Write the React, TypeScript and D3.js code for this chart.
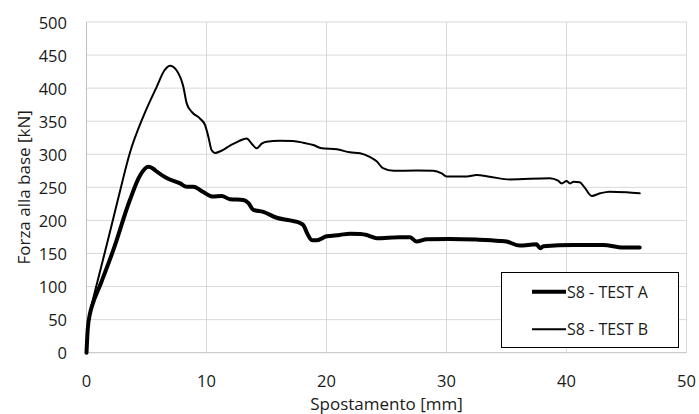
import React from "react";
import * as d3 from "d3";

const xTicks = [0, 10, 20, 30, 40, 50];
const yTicks = [0, 50, 100, 150, 200, 250, 300, 350, 400, 450, 500];

const seriesNames = ["S8 - TEST A", "S8 - TEST B"];

const aX = [0, 0.1, 0.3, 0.45, 1.2, 2.23, 3.6, 4.46, 5.15, 5.5, 5.85, 6.68, 7.8, 8.35, 8.9, 9.73, 10.5, 11.27, 11.96, 13.07, 13.5, 13.9, 14.73, 15.85, 16.96, 17.8, 18.1, 18.4, 18.8, 19.2, 20.0, 21.1, 21.96, 22.8, 23.35, 23.8, 24.2, 26.1, 26.96, 27.5, 28.35, 30.3, 32.5, 34.46, 35.0, 36.1, 37.5, 37.8, 38.07, 40.6, 43.07, 44.7, 46.1];
const aY = [0, 35, 60, 70, 105, 155, 230, 268, 281, 279, 274, 264, 256, 251, 251, 243, 236, 237, 232, 231, 226, 216, 213, 204, 200, 196, 192, 180, 170, 170, 176, 178, 180, 179.5, 178, 175, 173, 174.5, 174.5, 168, 171.5, 172, 171, 169, 168, 162, 164, 158, 161, 162.8, 162.8, 159, 159];

const bX = [0, 0.1, 0.3, 0.43, 1.2, 2.0, 2.8, 3.63, 4.73, 5.85, 6.5, 6.96, 7.5, 8.07, 8.35, 8.77, 9.46, 9.88, 10.15, 10.43, 10.7, 11.2, 11.96, 12.7, 13.35, 13.77, 14.18, 14.6, 15.0, 16.1, 17.2, 18.07, 18.9, 19.6, 20.85, 21.96, 22.8, 23.6, 24.2, 24.7, 25.6, 27.5, 28.9, 29.6, 30.0, 31.7, 32.5, 33.6, 35.3, 38.6, 39.3, 39.6, 40.0, 40.3, 40.6, 41.1, 41.5, 42.1, 42.8, 43.6, 45.0, 46.1];
const bY = [0, 35, 62, 72, 128, 186, 245, 303, 357, 402, 427, 434, 427, 402, 377, 364, 354, 344, 327, 306, 302, 305, 313, 320, 324, 316, 309, 316, 319, 320.5, 320, 317.5, 314, 309, 307.5, 303, 301.5, 296, 289, 279, 275, 275.5, 275, 271, 266.5, 266.5, 268.5, 266, 262, 263.7, 260, 256, 259.6, 256, 258.6, 257.6, 250, 237, 241, 243.5, 242.5, 241];

const W = 699;
const H = 414;
const FONT = "'Open Sans', 'DejaVu Sans', sans-serif";

export default function App() {
  const x = d3.scaleLinear().domain([0, 50]).range([86.5, 686.5]);
  const y = d3.scaleLinear().domain([0, 500]).range([352.7, 22]);
  const line = d3
    .line<[number, number]>()
    .x((d) => x(d[0]))
    .y((d) => y(d[1]))
    .curve(d3.curveMonotoneX);
  const a: [number, number][] = aX.map((v, i) => [v, aY[i]]);
  const b: [number, number][] = bX.map((v, i) => [v, bY[i]]);
  const textColor = "#1a1a1a";

  return (
    <svg
      width={W}
      height={H}
      style={{ position: "absolute", left: 0, top: 0, background: "#fff" }}
    >
      <rect x={0} y={0} width={W} height={H} fill="#fff" />
      {yTicks.map((t) => (
        <line
          key={"gy" + t}
          x1={x(0)}
          x2={x(50)}
          y1={y(t)}
          y2={y(t)}
          stroke={t === 0 ? "#bfbfbf" : "#d9d9d9"}
          strokeWidth={1}
        />
      ))}
      {xTicks.map((t) => (
        <line
          key={"gx" + t}
          x1={x(t)}
          x2={x(t)}
          y1={y(0)}
          y2={y(500)}
          stroke={t === 0 ? "#bfbfbf" : "#d9d9d9"}
          strokeWidth={1}
        />
      ))}
      {yTicks.map((t) => (
        <text
          key={"ty" + t}
          x={67}
          y={y(t)}
          textAnchor="end"
          dominantBaseline="central"
          fontFamily={FONT}
          fontSize={16.5}
          fill={textColor}
        >
          {t}
        </text>
      ))}
      {xTicks.map((t) => (
        <text
          key={"tx" + t}
          x={x(t)}
          y={380}
          textAnchor="middle"
          dominantBaseline="central"
          fontFamily={FONT}
          fontSize={16.5}
          fill={textColor}
        >
          {t}
        </text>
      ))}
      <text
        x={x(25)}
        y={403}
        textAnchor="middle"
        dominantBaseline="central"
        fontFamily={FONT}
        fontSize={17}
        fill={textColor}
      >
        Spostamento [mm]
      </text>
      <text
        transform={`translate(23,${(y(0) + y(500)) / 2}) rotate(-90)`}
        textAnchor="middle"
        dominantBaseline="central"
        fontFamily={FONT}
        fontSize={17}
        fill={textColor}
      >
        Forza alla base [kN]
      </text>
      <path d={line(b) || ""} fill="none" stroke="#000" strokeWidth={2} strokeLinejoin="round" strokeLinecap="round" />
      <path d={line(a) || ""} fill="none" stroke="#000" strokeWidth={4} strokeLinejoin="round" strokeLinecap="round" />
      <rect x={501.5} y={272.5} width={177} height={75} fill="#fff" stroke="#000" strokeWidth={1} />
      <line x1={532} x2={566} y1={291.7} y2={291.7} stroke="#000" strokeWidth={4} />
      <line x1={532} x2={566} y1={329.3} y2={329.3} stroke="#000" strokeWidth={2} />
      <text x={567} y={291.7} dominantBaseline="central" fontFamily={FONT} fontSize={16} fill={textColor}>
        {seriesNames[0]}
      </text>
      <text x={567} y={329.3} dominantBaseline="central" fontFamily={FONT} fontSize={16} fill={textColor}>
        {seriesNames[1]}
      </text>
    </svg>
  );
}
